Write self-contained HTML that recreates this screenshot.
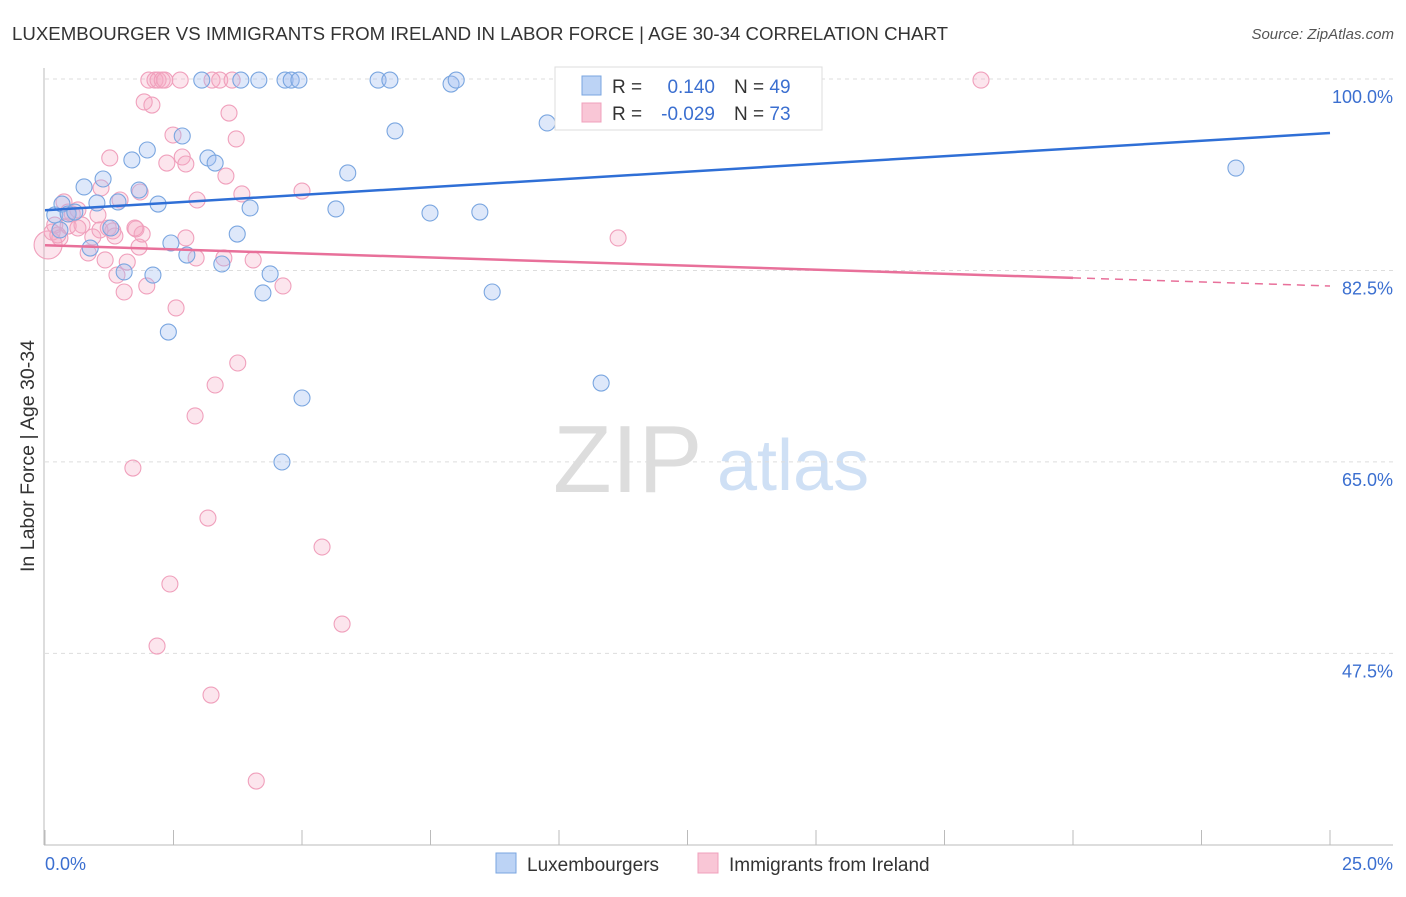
<!DOCTYPE html>
<html><head><meta charset="utf-8"><style>
body{margin:0;background:#fff;font-family:"Liberation Sans",sans-serif;}
svg text{font-family:"Liberation Sans",sans-serif;}
</style></head><body>
<svg id="chart" width="1406" height="892" xmlns="http://www.w3.org/2000/svg">
<text x="12" y="40" font-size="18" fill="#333" textLength="936" lengthAdjust="spacingAndGlyphs">LUXEMBOURGER VS IMMIGRANTS FROM IRELAND IN LABOR FORCE | AGE 30-34 CORRELATION CHART</text>
<text x="1394" y="39" font-size="15" fill="#555" text-anchor="end" font-style="italic">Source: ZipAtlas.com</text>
<g>
<text x="553" y="492" font-size="96" fill="#ddd" font-family="Liberation Serif,serif">ZIP</text>
<text x="717" y="490" font-size="72" fill="#cfe0f5">atlas</text>
</g>
<g id="grid"></g>
<g id="axes"></g>
<g id="marks"></g>
<text transform="translate(34,456) rotate(-90)" font-size="19" fill="#333" text-anchor="middle" textLength="232" lengthAdjust="spacingAndGlyphs">In Labor Force | Age 30-34</text>
<g>
<rect x="555" y="67" width="267" height="63" fill="#fff" stroke="#ddd"/>
<rect x="582" y="76" width="19" height="19" fill="#bcd3f5" stroke="#7aa6e0"/>
<rect x="582" y="103" width="19" height="19" fill="#f9c6d6" stroke="#f0a0bc"/>
<text x="612" y="93" font-size="19" fill="#333">R =</text>
<text x="715" y="93" font-size="19" fill="#3b6fd0" text-anchor="end">0.140</text>
<text x="734" y="93" font-size="19" fill="#333">N = <tspan fill="#3b6fd0">49</tspan></text>
<text x="612" y="120" font-size="19" fill="#333">R =</text>
<text x="715" y="120" font-size="19" fill="#3b6fd0" text-anchor="end">-0.029</text>
<text x="734" y="120" font-size="19" fill="#333">N = <tspan fill="#3b6fd0">73</tspan></text>
</g>
<g>
<rect x="496" y="853" width="20" height="20" fill="#bcd3f5" stroke="#7aa6e0"/>
<text x="527" y="871" font-size="19" fill="#333">Luxembourgers</text>
<rect x="698" y="853" width="20" height="20" fill="#f9c6d6" stroke="#f0a0bc"/>
<text x="729" y="871" font-size="19" fill="#333">Immigrants from Ireland</text>
</g>
</svg>
<script>
const yTicks=[100,82.5,65,47.5];
const yTickLabels=["100.0%","82.5%","65.0%","47.5%"];
const xTickCount=[0,2.5,5,7.5,10,12.5,15,17.5,20,22.5,25];
const blueX=[0.19,0.33,0.45,0.58,0.76,0.88,1.01,1.13,1.28,1.42,1.54,1.69,1.83,1.99,2.1,2.2,2.4,2.45,2.67,3.05,3.17,3.31,3.44,3.74,3.81,3.99,4.16,4.24,4.38,4.67,4.79,4.94,5.0,4.61,5.66,5.89,6.48,6.71,6.81,7.49,7.9,8.0,8.46,8.7,9.77,10.82,23.17,2.76,0.29];
const blueY=[87.57,88.57,87.66,87.84,90.13,84.55,88.67,90.86,86.38,88.76,82.36,92.6,89.85,93.51,82.08,88.57,76.87,85.01,94.79,99.9,92.78,92.32,83.09,85.83,99.9,88.21,99.9,80.44,82.18,99.9,99.9,99.9,70.84,64.99,88.12,91.41,99.9,99.9,95.25,87.75,99.54,99.9,87.84,80.53,95.98,72.21,91.86,83.91,86.2];
const pinkX=[0.06,0.14,0.19,0.29,0.37,0.45,0.53,0.64,0.72,0.84,0.93,1.03,1.09,1.17,1.26,1.32,1.4,1.46,1.54,1.6,1.71,1.77,1.83,1.89,1.93,1.98,2.02,2.08,2.14,2.2,2.28,2.33,2.37,2.43,2.18,2.49,2.55,2.63,2.67,2.74,2.74,2.92,2.96,2.94,3.17,3.23,3.25,3.31,3.4,3.48,3.52,3.58,3.64,3.72,3.75,3.83,4.05,4.11,4.63,5.0,5.39,5.78,11.15,18.21,1.75,1.85,1.07,1.23,1.36,0.45,0.64,0.25];
const pinkY=[84.83,86.01,86.65,85.47,88.76,86.56,87.66,88.03,86.65,84.1,85.56,87.57,90.04,83.46,92.78,86.11,82.08,88.94,80.53,83.27,64.44,86.29,84.64,85.83,97.9,81.08,99.9,97.62,99.9,99.9,99.9,99.9,92.32,53.84,48.17,94.88,79.07,99.9,92.87,92.23,85.47,69.2,88.94,83.64,59.87,43.69,99.9,72.03,99.9,83.64,91.13,96.89,99.9,94.52,74.04,89.49,83.46,35.83,81.08,89.76,57.22,50.18,85.47,99.9,86.38,89.67,86.2,86.38,85.65,87.84,86.38,85.74];
const blueTrend=[88.0,95.06];
const pinkTrend=[84.8,81.08];
const NS="http://www.w3.org/2000/svg";
const xs=v=>45+v*51.4;
const ys=v=>79+(100-v)*10.94;
function mk(tag,attrs,parent){const e=document.createElementNS(NS,tag);for(const k in attrs)e.setAttribute(k,attrs[k]);parent.appendChild(e);return e;}
const grid=document.getElementById('grid'),axes=document.getElementById('axes'),marks=document.getElementById('marks');
yTicks.forEach((t,i)=>{
 const l=mk('line',{x1:45,x2:1393,y1:ys(t),y2:ys(t),stroke:'#ddd','stroke-dasharray':'4,4'},grid);
 
 
 const tx=mk('text',{x:1393,y:ys(t)+24,'font-size':18,fill:'#3b6fd0','text-anchor':'end'},axes);
 tx.textContent=yTickLabels[i];
 
 
});
mk('line',{x1:44,x2:44,y1:68,y2:845,stroke:'#bbb'},axes);
mk('line',{x1:44,x2:1393,y1:845,y2:845,stroke:'#bbb'},axes);
xTickCount.forEach(t=>{const l=mk('line',{x1:xs(t),x2:xs(t),y1:830,y2:845,stroke:'#bbb'},axes);
 
 });
const x0=mk('text',{x:45,y:870,'font-size':18,fill:'#3b6fd0'},axes);x0.textContent="0.0%";


const x1=mk('text',{x:1393,y:870,'font-size':18,fill:'#3b6fd0','text-anchor':'end'},axes);x1.textContent="25.0%";


pinkX.forEach((x,i)=>{const c=mk('circle',{cx:xs(x),cy:ys(pinkY[i]),r:i==0?14:8,fill:'rgba(245,170,195,0.3)',stroke:'#f0a0bc','stroke-width':1.1},marks);
 
 });
blueX.forEach((x,i)=>{const c=mk('circle',{cx:xs(x),cy:ys(blueY[i]),r:8,fill:'rgba(160,190,240,0.35)',stroke:'#7aa6e0','stroke-width':1.1},marks);
 
 });
const bl=mk('line',{x1:xs(0),y1:ys(blueTrend[0]),x2:xs(25),y2:ys(blueTrend[1]),stroke:'#2f6fd6','stroke-width':2.5},marks);


const pm=pinkTrend[0]+(pinkTrend[1]-pinkTrend[0])*20/25;
const pl=mk('line',{x1:xs(0),y1:ys(pinkTrend[0]),x2:xs(20),y2:ys(pm),stroke:'#e8709a','stroke-width':2.5},marks);


const pd=mk('line',{x1:xs(20),y1:ys(pm),x2:xs(25),y2:ys(pinkTrend[1]),stroke:'#e8709a','stroke-width':1.5,'stroke-dasharray':'8,6'},marks);


</script>
</body></html>
